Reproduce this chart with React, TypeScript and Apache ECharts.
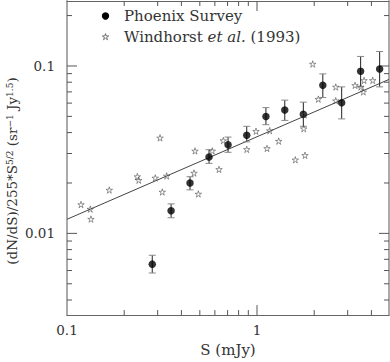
import React, { useEffect, useRef } from "react";
import * as echarts from "echarts";

// Phoenix Survey (filled circles with error bars)
const phoenixS = [0.281, 0.353, 0.444, 0.559, 0.704, 0.883, 1.114, 1.4, 1.753, 2.22, 2.79, 3.51, 4.42];
const phoenixV = [0.00655, 0.01365, 0.02, 0.0286, 0.0338, 0.0386, 0.0499, 0.0546, 0.0515, 0.0766, 0.0603, 0.093, 0.096];
const phoenixLo = [0.0058, 0.0124, 0.0182, 0.0262, 0.0305, 0.0352, 0.0446, 0.0473, 0.0436, 0.0648, 0.0483, 0.075, 0.075];
const phoenixHi = [0.0074, 0.015, 0.0218, 0.0316, 0.0376, 0.0436, 0.0564, 0.0625, 0.0608, 0.0897, 0.075, 0.114, 0.122];

// Windhorst et al. (1993) (stars)
const windhorstS = [0.1185, 0.1326, 0.1337, 0.167, 0.2344, 0.2385, 0.2915, 0.3347, 0.3173, 0.3087, 0.4718, 0.5817, 0.6646, 0.4661, 0.4911, 0.631, 0.8828, 0.9879, 1.1287, 1.1665, 1.3007, 1.591, 1.789, 1.761, 1.774, 1.964, 2.102, 2.596, 2.596, 3.28, 3.514, 3.658, 4.064, 3.627];
const windhorstV = [0.01487, 0.01397, 0.01217, 0.01815, 0.02185, 0.02078, 0.02144, 0.02203, 0.01767, 0.0372, 0.03108, 0.03108, 0.03586, 0.02294, 0.01719, 0.02412, 0.03176, 0.04074, 0.03218, 0.04107, 0.03557, 0.0275, 0.02927, 0.0422, 0.051, 0.1027, 0.06335, 0.0749, 0.062, 0.0766, 0.0749, 0.082, 0.082, 0.07];

// Power-law fit line
const fitS = [0.1, 4.95];
const fitV = [0.01214, 0.0831];

// Axis ranges and ticks
const X_MIN = 0.1;
const X_MAX = 4.95;
const Y_MIN = 0.00325;
const Y_MAX = 0.2444;
const xLabelValues = [0.1, 1];
const yLabelValues = [0.01, 0.1];
const xMajorTicks = [1];
const xMinorTicks = [0.2, 0.3, 0.4, 0.5, 0.6, 0.7, 0.8, 0.9, 2, 3, 4];
const yMajorTicks = [0.01, 0.1];
const yMinorTicks = [0.004, 0.005, 0.006, 0.007, 0.008, 0.009, 0.02, 0.03, 0.04, 0.05, 0.06, 0.07, 0.08, 0.09, 0.2];

const FONT = "DejaVu Serif";
const TXT = "#333";

function starPoints(cx: number, cy: number, R: number, r: number): number[][] {
  const pts: number[][] = [];
  for (let i = 0; i < 10; i++) {
    const a = -Math.PI / 2 + (i * Math.PI) / 5;
    const rad = i % 2 === 0 ? R : r;
    pts.push([cx + rad * Math.cos(a), cy + rad * Math.sin(a)]);
  }
  return pts;
}

function starPath(): string {
  const pts = starPoints(10, 10, 10, 3.6);
  return "path://" + pts.map((p, i) => (i === 0 ? "M" : "L") + p[0].toFixed(3) + " " + p[1].toFixed(3)).join(" ") + " Z";
}

function labelFormatter(values: number[]) {
  return (v: number) => {
    const t = values.find((x) => Math.abs(Math.log10(v / x)) < 1e-6);
    return t === undefined ? "" : String(t);
  };
}

export default function App() {
  const ref = useRef<HTMLDivElement>(null);

  useEffect(() => {
    document.body.style.margin = "0";
    if (!ref.current) return;
    const chart = echarts.init(ref.current, undefined, { renderer: "svg" });

    const tickColor = "#555";
    const xTickData = [
      ...xMajorTicks.map((v) => [v, Y_MIN, 1]),
      ...xMinorTicks.map((v) => [v, Y_MIN, 0]),
    ];
    const yTickData = [
      ...yMajorTicks.map((v) => [X_MIN, v, 1]),
      ...yMinorTicks.map((v) => [X_MIN, v, 0]),
    ];

    const option: any = {
      animation: false,
      backgroundColor: "#fff",
      grid: { left: 67, right: 1, top: 1, bottom: 42, containLabel: false },
      xAxis: [
        {
          type: "log",
          min: X_MIN,
          max: X_MAX,
          position: "bottom",
          axisLine: { lineStyle: { color: "#666", width: 1 } },
          axisTick: { show: false },
          splitLine: { show: false },
          axisLabel: {
            formatter: labelFormatter(xLabelValues),
            margin: 8,
            color: TXT,
            fontFamily: FONT,
            fontSize: 13.5,
            showMinLabel: true,
            showMaxLabel: false,
          },
          name: "S (mJy)",
          nameLocation: "middle",
          nameGap: 26,
          nameTextStyle: { fontFamily: FONT, fontSize: 15, color: TXT },
        },
        {
          type: "log",
          min: X_MIN,
          max: X_MAX,
          position: "top",
          axisLine: { lineStyle: { color: "#666", width: 1 } },
          axisTick: { show: false },
          splitLine: { show: false },
          axisLabel: { show: false },
        },
      ],
      yAxis: [
        {
          type: "log",
          min: Y_MIN,
          max: Y_MAX,
          position: "left",
          axisLine: { lineStyle: { color: "#aaa", width: 2 } },
          axisTick: { show: false },
          splitLine: { show: false },
          axisLabel: {
            formatter: labelFormatter(yLabelValues),
            margin: 12,
            color: TXT,
            fontFamily: FONT,
            fontSize: 13.5,
            showMinLabel: false,
            showMaxLabel: false,
          },
        },
        {
          type: "log",
          min: Y_MIN,
          max: Y_MAX,
          position: "right",
          axisLine: { lineStyle: { color: "#aaa", width: 2 } },
          axisTick: { show: false },
          splitLine: { show: false },
          axisLabel: { show: false },
        },
      ],
      graphic: [
        {
          type: "text",
          x: 12,
          y: 171,
          rotation: Math.PI / 2,
          style: {
            text: "{m|(dN/dS)/255*S}{s|5/2}{m| (sr}{s|−1}{m| Jy}{s|1.5}{m|)}",
            align: "center",
            verticalAlign: "middle",
            fill: TXT,
            rich: {
              m: { fontFamily: FONT, fontSize: 13.5, fill: TXT, lineHeight: 14, verticalAlign: "bottom" },
              s: { fontFamily: FONT, fontSize: 9, fill: TXT, lineHeight: 9, padding: [0, 0, 9, 0], verticalAlign: "top" },
            },
          },
        },
        {
          type: "circle",
          shape: { cx: 105.5, cy: 16, r: 3.7 },
          style: { fill: "#000" },
        },
        {
          type: "polygon",
          shape: { points: starPoints(105.5, 37, 3.4, 1.25) },
          style: { fill: "none", stroke: "#444", lineWidth: 0.7 },
        },
        {
          type: "text",
          x: 124,
          y: 16,
          style: {
            text: "Phoenix Survey",
            fontFamily: FONT,
            fontSize: 15,
            fill: TXT,
            verticalAlign: "middle",
          },
        },
        {
          type: "text",
          x: 124,
          y: 37,
          style: {
            text: "{n|Windhorst }{i|et al.}{n| (1993)}",
            verticalAlign: "middle",
            rich: {
              n: { fontFamily: FONT, fontSize: 15, fill: TXT },
              i: { fontFamily: FONT, fontSize: 15, fontStyle: "italic", fill: TXT },
            },
          },
        },
      ],
      series: [
        {
          type: "custom",
          name: "xticks",
          coordinateSystem: "cartesian2d",
          xAxisIndex: 0,
          yAxisIndex: 0,
          silent: true,
          clip: false,
          data: xTickData,
          renderItem: (params: any, api: any) => {
            const x = api.value(0);
            const len = api.value(2) ? 10 : 5;
            const b = api.coord([x, Y_MIN]);
            const t = api.coord([x, Y_MAX]);
            const st = { stroke: tickColor, lineWidth: 1 };
            return {
              type: "group",
              children: [
                { type: "line", shape: { x1: b[0], y1: b[1], x2: b[0], y2: b[1] - len }, style: st },
                { type: "line", shape: { x1: t[0], y1: t[1], x2: t[0], y2: t[1] + len }, style: st },
              ],
            };
          },
        },
        {
          type: "custom",
          name: "yticks",
          coordinateSystem: "cartesian2d",
          xAxisIndex: 0,
          yAxisIndex: 0,
          silent: true,
          clip: false,
          data: yTickData,
          renderItem: (params: any, api: any) => {
            const y = api.value(1);
            const len = api.value(2) ? 10 : 5;
            const l = api.coord([X_MIN, y]);
            const r = api.coord([X_MAX, y]);
            const st = { stroke: tickColor, lineWidth: 1 };
            return {
              type: "group",
              children: [
                { type: "line", shape: { x1: l[0], y1: l[1], x2: l[0] + len, y2: l[1] }, style: st },
                { type: "line", shape: { x1: r[0], y1: r[1], x2: r[0] - len, y2: r[1] }, style: st },
              ],
            };
          },
        },
        {
          type: "line",
          name: "fit",
          data: fitS.map((s, i) => [s, fitV[i]]),
          symbol: "none",
          lineStyle: { color: "#444", width: 1 },
          silent: true,
          z: 2,
        },
        {
          type: "custom",
          name: "errorbars",
          coordinateSystem: "cartesian2d",
          silent: true,
          data: phoenixS.map((s, i) => [s, phoenixLo[i], phoenixHi[i]]),
          renderItem: (params: any, api: any) => {
            const s = api.value(0);
            const lo = api.coord([s, api.value(1)]);
            const hi = api.coord([s, api.value(2)]);
            const hw = 3.5;
            return {
              type: "group",
              children: [
                { type: "line", shape: { x1: lo[0], y1: lo[1], x2: hi[0], y2: hi[1] }, style: { stroke: "#222", lineWidth: 1 } },
                { type: "line", shape: { x1: lo[0] - hw, y1: lo[1], x2: lo[0] + hw, y2: lo[1] }, style: { stroke: "#888", lineWidth: 1 } },
                { type: "line", shape: { x1: hi[0] - hw, y1: hi[1], x2: hi[0] + hw, y2: hi[1] }, style: { stroke: "#888", lineWidth: 1 } },
              ],
            };
          },
          z: 3,
        },
        {
          type: "scatter",
          name: "Phoenix Survey",
          data: phoenixS.map((s, i) => [s, phoenixV[i]]),
          symbol: "circle",
          symbolSize: 7.5,
          itemStyle: { color: "#000" },
          silent: true,
          z: 4,
        },
        {
          type: "scatter",
          name: "Windhorst et al. (1993)",
          data: windhorstS.map((s, i) => [s, windhorstV[i]]),
          symbol: starPath(),
          symbolSize: 6.5,
          itemStyle: { color: "rgba(0,0,0,0)", borderColor: "#444", borderWidth: 0.7 },
          silent: true,
          z: 4,
        },
      ],
    };

    chart.setOption(option);
    return () => chart.dispose();
  }, []);

  return (
    <div
      ref={ref}
      style={{ position: "absolute", left: 0, top: 0, width: 390, height: 362 }}
    />
  );
}
